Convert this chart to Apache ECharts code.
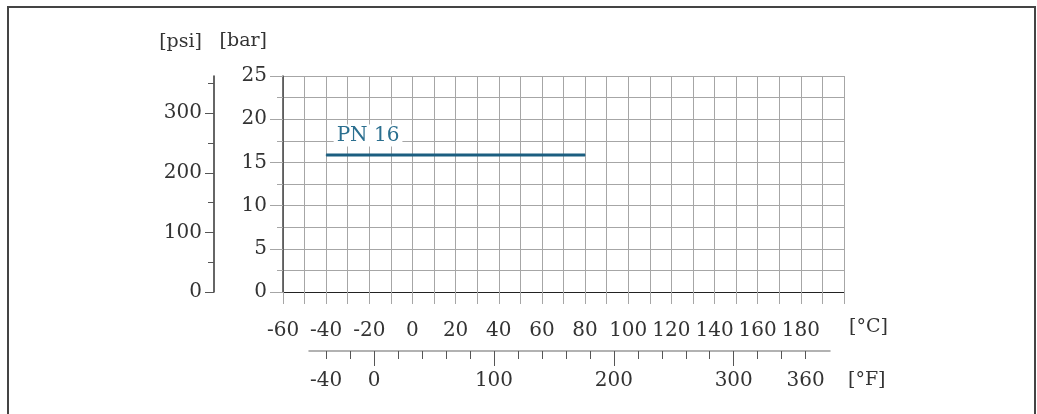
<!DOCTYPE html>
<html>
<head>
<meta charset="utf-8">
<title>PN 16</title>
<script src="https://cdn.jsdelivr.net/npm/echarts@6/dist/echarts.min.js"></script>
<style>
  html, body { margin: 0; padding: 0; background: #fff; }
  #chart { position: absolute; left: 0; top: 0; width: 1037px; height: 414px; }
  #frame { position: absolute; left: 7px; top: 6px; width: 1025px; height: 440px; border: 2px solid #444; pointer-events: none; }
</style>
</head>
<body>
<div id="chart"></div>
<div id="frame"></div>
<script>
// PN 16 rating line: temperature [°C] -> pressure [bar]
const tempC = [-40, 80]
const pressureBar = [15.85, 15.85]
const seriesName = 'PN 16'

// tick labels
const celsiusLabels = [-60, -40, -20, 0, 20, 40, 60, 80, 100, 120, 140, 160, 180]
const barLabels = [0, 5, 10, 15, 20, 25]
const psiLabels = [0, 100, 200, 300]
const psiMinor = [50, 150, 250, 350]
const fahrenheitLabels = [-40, 0, 100, 200, 300, 360]
const fahrenheitMajor = [0, 100, 200, 300]
const fahrenheitTicks = [-40, -20, 0, 20, 40, 60, 80, 100, 120, 140, 160, 180, 200, 220, 240, 260, 280, 300, 320, 340, 360]

const BAR_TO_PSI = 14.5038
const FONT = 'DejaVu Serif'
const TEXT = '#333'
const GRID_LINE = '#a6a6a6'
const LINE_COLOR = '#1b5e80'

const cToF = c => c * 1.8 + 32

const chart = echarts.init(document.getElementById('chart'), null, { renderer: 'canvas' })

const labelStyle = { fontFamily: FONT, fontSize: 20, color: TEXT }
const nameStyle = { fontFamily: FONT, fontSize: 19, color: TEXT }

const lineData = tempC.map((t, i) => {
  const item = { value: [t, pressureBar[i]] }
  if (i === 0) {
    item.label = {
      show: true,
      formatter: seriesName,
      position: [8, -30],
      fontFamily: FONT,
      fontSize: 20,
      color: '#2b6f8f',
      backgroundColor: '#fff',
      padding: [1, 3]
    }
  }
  return item
})

chart.setOption({
  animation: false,
  grid: [
    { left: 283, top: 76, width: 561, height: 216, outerBoundsMode: 'none' },
    { left: 309, top: 300, width: 521, height: 51, outerBoundsMode: 'none' }
  ],
  xAxis: [
    {
      gridIndex: 0,
      type: 'value',
      position: 'bottom',
      min: -60,
      max: 200,
      interval: 10,
      axisLine: { show: true, onZero: false, lineStyle: { color: '#222', width: 1 } },
      axisTick: { show: true, length: 12, lineStyle: { color: GRID_LINE } },
      axisLabel: Object.assign({
        margin: 29,
        formatter: v => (celsiusLabels.includes(v) ? String(v) : '')
      }, labelStyle),
      splitLine: { show: true, lineStyle: { color: GRID_LINE, width: 1 } },
      name: '[°C]',
      nameLocation: 'end',
      nameGap: 5,
      nameTextStyle: Object.assign({ align: 'left', verticalAlign: 'top', padding: [26, 0, 0, 0] }, nameStyle)
    },
    {
      gridIndex: 1,
      type: 'value',
      position: 'bottom',
      min: cToF(-60 + 26 / 2.1577),
      max: cToF(-60 + 547 / 2.1577),
      axisLine: { show: true, onZero: false, lineStyle: { color: '#999', width: 1.5 } },
      axisTick: { show: true, length: 8, customValues: fahrenheitTicks, lineStyle: { color: '#555' } },
      axisLabel: Object.assign({ margin: 20, customValues: fahrenheitLabels }, labelStyle),
      splitLine: { show: false },
      name: '[°F]',
      nameLocation: 'end',
      nameGap: 18,
      nameTextStyle: Object.assign({ align: 'left', verticalAlign: 'top', padding: [20, 0, 0, 0] }, nameStyle)
    },
    {
      gridIndex: 1,
      type: 'value',
      position: 'bottom',
      min: cToF(-60 + 26 / 2.1577),
      max: cToF(-60 + 547 / 2.1577),
      axisLine: { show: false, onZero: false },
      axisTick: { show: true, length: 15, customValues: fahrenheitMajor, lineStyle: { color: '#555' } },
      axisLabel: { show: false },
      splitLine: { show: false }
    }
  ],
  yAxis: [
    {
      gridIndex: 0,
      type: 'value',
      position: 'left',
      min: 0,
      max: 25,
      interval: 2.5,
      axisLine: { show: true, onZero: false, lineStyle: { color: '#444', width: 1.5 } },
      axisTick: { show: true, length: 6, lineStyle: { color: GRID_LINE } },
      axisLabel: Object.assign({
        margin: 16,
        formatter: v => (barLabels.includes(v) ? String(v) : '')
      }, labelStyle),
      splitLine: { show: true, lineStyle: { color: GRID_LINE, width: 1 } },
      name: '[bar]',
      nameLocation: 'end',
      nameGap: 25,
      nameTextStyle: Object.assign({ align: 'right', padding: [0, 16, 0, 0] }, nameStyle)
    },
    {
      gridIndex: 0,
      type: 'value',
      position: 'left',
      min: 0,
      max: 25,
      interval: 5,
      axisLine: { show: false, onZero: false },
      axisTick: { show: true, length: 13, lineStyle: { color: GRID_LINE } },
      axisLabel: { show: false },
      splitLine: { show: false }
    },
    {
      gridIndex: 0,
      type: 'value',
      position: 'left',
      offset: 69,
      min: 0,
      max: 25 * BAR_TO_PSI,
      axisLine: { show: true, onZero: false, lineStyle: { color: '#333', width: 1.5 } },
      axisTick: { show: true, length: 6, customValues: psiMinor, lineStyle: { color: '#555' } },
      axisLabel: { show: false },
      splitLine: { show: false },
      name: '[psi]',
      nameLocation: 'end',
      nameGap: 24,
      nameTextStyle: Object.assign({ align: 'right', padding: [0, 12, 0, 0] }, nameStyle)
    },
    {
      gridIndex: 0,
      type: 'value',
      position: 'left',
      offset: 69,
      min: 0,
      max: 25 * BAR_TO_PSI,
      axisLine: { show: false, onZero: false },
      axisTick: { show: true, length: 9, customValues: psiLabels, lineStyle: { color: '#555' } },
      axisLabel: Object.assign({ margin: 12, customValues: psiLabels }, labelStyle),
      splitLine: { show: false }
    },
    {
      gridIndex: 1,
      type: 'value',
      show: false
    }
  ],
  series: [
    {
      name: seriesName,
      type: 'line',
      xAxisIndex: 0,
      yAxisIndex: 0,
      data: lineData,
      symbol: 'circle',
      symbolSize: 1,
      showSymbol: true,
      itemStyle: { color: LINE_COLOR },
      lineStyle: { color: LINE_COLOR, width: 3 },
      z: 5
    }
  ]
})
</script>
</body>
</html>
